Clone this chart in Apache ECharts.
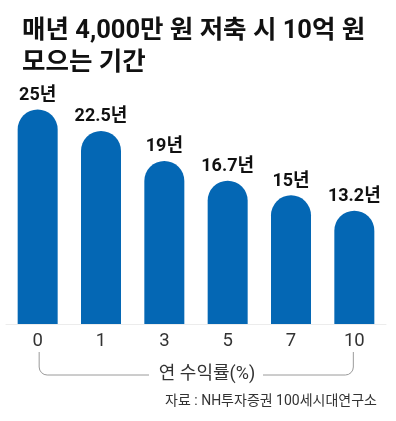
<!DOCTYPE html>
<html>
<head>
<meta charset="utf-8">
<script src="https://cdn.jsdelivr.net/npm/echarts@6/dist/echarts.min.js"></script>
<style>
html,body{margin:0;padding:0;background:#fff;}
#chart{width:396px;height:421px;}
</style>
</head>
<body>
<div id="chart"></div>
<script>
const categories = ['0', '1', '3', '5', '7', '10'];
const years = [25, 22.5, 19, 16.7, 15, 13.2];
const titleText = '매년 4,000만 원 저축 시 10억 원\n모으는 기간';
const axisTitle = '연 수익률(%)';
const sourceText = '자료 : NH투자증권 100세시대연구소';

const FONT = 'Roboto, "Noto Sans CJK KR", sans-serif';
const chart = echarts.init(document.getElementById('chart'), null, {renderer: 'canvas'});

const option = {
  animation: false,
  backgroundColor: '#ffffff',
  title: {
    text: titleText,
    left: 17,
    top: 11,
    textStyle: {fontFamily: FONT, fontSize: 25.5, fontWeight: 'bold', color: '#111', lineHeight: 32}
  },
  grid: {left: 6, right: 10, top: 109.5, bottom: 97, containLabel: false},
  xAxis: {
    type: 'category',
    data: categories,
    axisLine: {show: true, lineStyle: {color: '#ececec', width: 1}},
    axisTick: {show: false},
    axisLabel: {fontFamily: FONT, fontSize: 18.5, color: '#333', margin: 8}
  },
  yAxis: {
    type: 'value',
    min: 0,
    max: 25,
    show: false,
    splitLine: {show: false}
  },
  series: [{
    type: 'bar',
    data: years,
    barWidth: 40,
    itemStyle: {color: '#0467b4', borderRadius: [20, 20, 0, 0]},
    label: {
      show: true,
      position: 'top',
      distance: 5,
      formatter: p => p.value + '년',
      fontFamily: FONT,
      fontSize: 18,
      fontWeight: 'bold',
      color: '#111'
    }
  }]
};
chart.setOption(option);

// bracket under the category axis, positioned from the axis scale
const xL = chart.convertToPixel({xAxisIndex: 0}, categories[0]) + 1.5;
const xR = chart.convertToPixel({xAxisIndex: 0}, categories[categories.length - 1]) - 1;
const yTop = 352, yBot = 375, r = 8;
const midX = 207, gapHalf = 58;
const lineStyle = {stroke: '#9a9a9a', lineWidth: 1, fill: null};

chart.setOption({
  graphic: [
    {type: 'line', shape: {x1: xL, y1: yTop, x2: xL, y2: yBot - r}, style: lineStyle},
    {type: 'arc', shape: {cx: xL + r, cy: yBot - r, r: r, startAngle: Math.PI / 2, endAngle: Math.PI, clockwise: true}, style: lineStyle},
    {type: 'line', shape: {x1: xL + r, y1: yBot, x2: midX - gapHalf, y2: yBot}, style: lineStyle},
    {type: 'line', shape: {x1: midX + gapHalf - 2, y1: yBot, x2: xR - r, y2: yBot}, style: lineStyle},
    {type: 'arc', shape: {cx: xR - r, cy: yBot - r, r: r, startAngle: 0, endAngle: Math.PI / 2, clockwise: true}, style: lineStyle},
    {type: 'line', shape: {x1: xR, y1: yBot - r, x2: xR, y2: yTop}, style: lineStyle},
    {type: 'text', x: midX, y: 374, style: {text: axisTitle, fontFamily: FONT, fontSize: 18, fill: '#333', align: 'center', verticalAlign: 'middle'}},
    {type: 'text', x: 377, y: 401, style: {text: sourceText, fontFamily: FONT, fontSize: 14, fill: '#333', align: 'right', verticalAlign: 'middle'}}
  ]
});
</script>
</body>
</html>
